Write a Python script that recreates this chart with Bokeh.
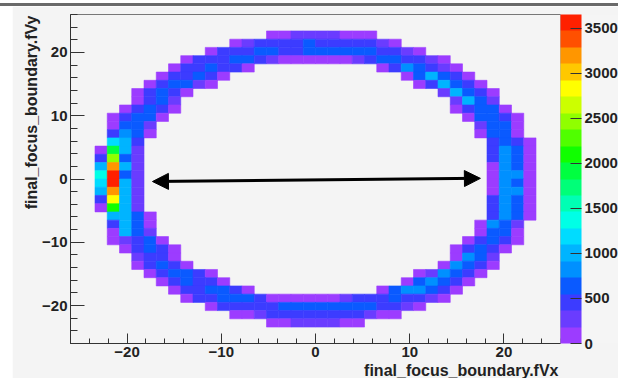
from bokeh.plotting import figure
from bokeh.models import (ColumnDataSource, LinearColorMapper, ColorBar, FixedTicker,
                          Range1d, Arrow, NormalHead, Title, Div, Spacer)
from bokeh.layouts import column, row
from bokeh.embed import file_html
from bokeh.resources import INLINE

# ---- histogram definition (TH2 with 40 x 40 bins) ----
x_lo, x_hi, nbins_x = -26.0, 26.0, 40
y_lo, y_hi, nbins_y = -26.0, 26.0, 40
z_max = 3650.0
n_levels = 20

# contour level read for each filled bin: row index from top, first column, levels
level_chars = "0123456789abcdefghij"
seg_row = [2, 3, 4, 5,
           6, 6, 7, 7, 8, 8, 9, 9, 10, 10, 11, 11, 12, 12, 13, 13, 14, 14,
           15, 15, 16, 16, 17, 17, 18, 18, 19, 19, 20, 20, 21, 21, 22, 22, 23, 23, 24, 24,
           25, 25, 26, 26, 27, 27, 28, 28, 29, 29, 30, 30, 31, 31, 32, 32, 33, 33,
           34, 35, 36, 37]
seg_col = [16, 13, 11, 9,
           8, 25, 7, 27, 6, 28, 5, 30, 5, 31, 4, 31, 3, 32, 3, 33, 3, 33,
           3, 34, 2, 34, 2, 34, 2, 34, 2, 34, 2, 34, 2, 34, 2, 34, 2, 34, 3, 34,
           3, 33, 3, 33, 3, 32, 4, 31, 5, 31, 5, 30, 6, 28, 7, 27, 8, 25,
           9, 11, 13, 16]
seg_levels = ["001111000", "01222232222210", "022233223333332210", "0222332100000012332210",
              "0223220", "0243210", "022320", "035320", "023310", "025320", "02320", "15320",
              "0231", "1531", "02320", "02330", "02330", "03320", "0331", "1330", "2430", "0330",
              "652", "2320", "0a51", "2430", "2d31", "2430", "5h51", "0430", "7j31", "0440",
              "6j51", "0430", "5h51", "0440", "2f51", "2430", "0b51", "2430", "5530", "2430",
              "2530", "0431", "0531", "0330", "01230", "02320", "02320", "02320", "1220", "0431",
              "02320", "04320", "023320", "014320", "023220", "034320", "0223320", "0344320",
              "0223332000000122232210", "022222333333332210", "00122222222100", "00111100"]

palette = ["#9c3cff", "#6a3cff", "#3c3cff", "#0a5aff", "#0090ff", "#00b4ff", "#00dcff",
           "#00ffe6", "#00ffb4", "#00ff78", "#00ff40", "#10ff00", "#50ff00", "#90ff00",
           "#ccff00", "#ffff00", "#ffc800", "#ff9600", "#ff5000", "#ff2000"]
z_ticks = [0, 500, 1000, 1500, 2000, 2500, 3000, 3500]
xy_ticks = [-20, -10, 0, 10, 20]
x_title = "final_focus_boundary.fVx"
y_title = "final_focus_boundary.fVy"

# arrow drawn over the histogram
arrow_x = [-17.3, 17.5]
arrow_y = [-0.4, 0.1]

# ---- build bins ----
bw = (x_hi - x_lo) / nbins_x
bh = (y_hi - y_lo) / nbins_y
left, right, top, bottom, counts = [], [], [], [], []
for r, c0, lv in zip(seg_row, seg_col, seg_levels):
    for k, ch in enumerate(lv):
        c = c0 + k
        lvl = level_chars.index(ch)
        left.append(x_lo + c * bw)
        right.append(x_lo + (c + 1) * bw)
        top.append(y_hi - r * bh)
        bottom.append(y_hi - (r + 1) * bh)
        counts.append((lvl + 0.5) * z_max / n_levels)

src = ColumnDataSource(dict(left=left, right=right, top=top, bottom=bottom, count=counts))
mapper = LinearColorMapper(palette=palette, low=0, high=z_max)

FONT = "Liberation Sans"
FSIZE = "15px"
TSIZE = "16px"
BG = "#f4f4f4"
TXT = "#222222"

p = figure(frame_width=490, frame_height=329,
           x_range=Range1d(x_lo, x_hi), y_range=Range1d(y_lo, y_hi),
           output_backend="svg", toolbar_location=None,
           min_border_left=58, min_border_top=8, min_border_bottom=32, min_border_right=0)
p.background_fill_color = BG
p.border_fill_color = BG
p.outline_line_color = "#777777"
p.grid.visible = False

p.quad(left="left", right="right", top="top", bottom="bottom", source=src,
       fill_color={"field": "count", "transform": mapper},
       line_color={"field": "count", "transform": mapper}, line_width=0.6)

for ax in (p.xaxis[0], p.yaxis[0]):
    ax.ticker = FixedTicker(ticks=xy_ticks, minor_ticks=list(range(-26, 27, 2)))
    ax.axis_line_color = "#333333"
    ax.major_tick_line_color = "#333333"
    ax.minor_tick_line_color = "#333333"
    ax.major_tick_out = 0
    ax.minor_tick_out = 0
    ax.major_label_text_font = FONT
    ax.major_label_text_font_style = "bold"
    ax.major_label_text_font_size = FSIZE
    ax.major_label_text_color = TXT
p.xaxis.major_tick_in = 10
p.xaxis.minor_tick_in = 5
p.yaxis.major_tick_in = 14
p.yaxis.minor_tick_in = 7
p.xaxis.major_label_standoff = 3
p.yaxis.major_label_standoff = 3

cb = ColorBar(color_mapper=mapper, ticker=FixedTicker(ticks=z_ticks), width=21,
              padding=0, margin=0, major_tick_in=11, major_tick_out=0,
              major_tick_line_color="#333333", label_standoff=3,
              major_label_text_font=FONT, major_label_text_font_style="bold",
              major_label_text_font_size=FSIZE, major_label_text_color=TXT,
              bar_line_color=None, border_line_color=None, background_fill_color=BG,
              minor_tick_line_color=None)
p.add_layout(cb, "right")

head = dict(size=16, fill_color="black", line_color="black")
p.add_layout(Arrow(start=NormalHead(**head), end=NormalHead(**head),
                   x_start=arrow_x[0], y_start=arrow_y[0], x_end=arrow_x[1], y_end=arrow_y[1],
                   line_color="black", line_width=3))

p.add_layout(Title(text=x_title, align="right", standoff=0, offset=2, text_font=FONT,
                   text_font_style="bold", text_font_size=TSIZE, text_color=TXT), "below")
p.add_layout(Title(text=y_title, align="right", standoff=0, offset=1, text_font=FONT,
                   text_font_style="bold", text_font_size=TSIZE, text_color=TXT), "left")

top_line = Div(text="", width=618, height=6, margin=0,
               styles={"background": "linear-gradient(#ffffff 0px, #ffffff 3px, #6a6a6a 3px, #6a6a6a 6px)"})
layout = column(top_line, row(Spacer(width=12, height=375, margin=0), p, spacing=0), spacing=0)

open("out.html", "w").write(file_html(layout, INLINE))
